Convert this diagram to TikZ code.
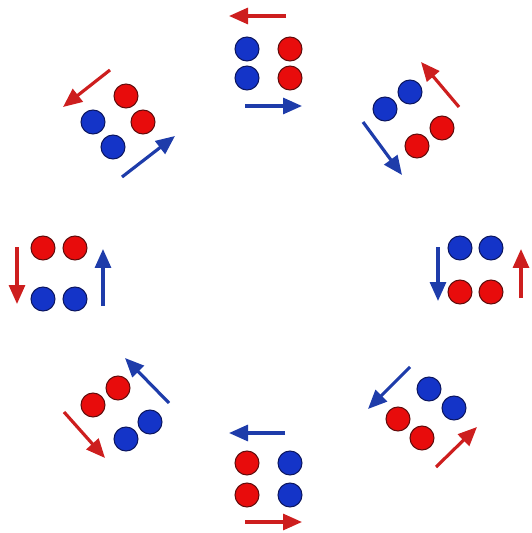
\documentclass[tikz,border=0pt]{standalone}
\usepackage{tikz}
\usetikzlibrary{arrows.meta}

\definecolor{dotblue}{RGB}{20,52,200}
\definecolor{dotblueedge}{RGB}{12,22,95}
\definecolor{dotred}{RGB}{232,12,12}
\definecolor{dotrededge}{RGB}{95,12,12}
\definecolor{arrblue}{RGB}{30,60,170}
\definecolor{arrred}{RGB}{205,30,30}

\begin{document}
\begin{tikzpicture}[x=0.02cm, y=-0.02cm,
        bluedot/.style={circle, fill=dotblue, draw=dotblueedge, line width=0.6pt, minimum size=0.48cm, inner sep=0pt},
        reddot/.style={circle, fill=dotred, draw=dotrededge, line width=0.6pt, minimum size=0.48cm, inner sep=0pt},
        bluearrow/.style={-{Triangle[length=0.38cm, width=0.32cm]}, line width=1.8pt, arrblue},
        redarrow/.style={-{Triangle[length=0.38cm, width=0.32cm]}, line width=1.8pt, arrred}]
        \useasboundingbox (0,0) rectangle (531,533);

        % Top
        \node[bluedot] (Tb1) at (247,49) {};
        \node[bluedot] (Tb2) at (247,78) {};
        \node[reddot] (Tr1) at (290,49) {};
        \node[reddot] (Tr2) at (290,78) {};
        \coordinate (Trs) at (286,16); \coordinate (Tre) at (229,16);
        \coordinate (Tbs) at (245,106); \coordinate (Tbe) at (302,106);
        \draw[redarrow] (Trs) -- (Tre);
        \draw[bluearrow] (Tbs) -- (Tbe);

        % Top right
        \node[bluedot] (TRb1) at (410,92) {};
        \node[bluedot] (TRb2) at (385,109) {};
        \node[reddot] (TRr1) at (442,128) {};
        \node[reddot] (TRr2) at (417,146) {};
        \coordinate (TRrs) at (459,107); \coordinate (TRre) at (421,62);
        \coordinate (TRbs) at (363,122); \coordinate (TRbe) at (402,175);
        \draw[redarrow] (TRrs) -- (TRre);
        \draw[bluearrow] (TRbs) -- (TRbe);

        % Right
        \node[bluedot] (Rb1) at (460,248) {};
        \node[bluedot] (Rb2) at (491,248) {};
        \node[reddot] (Rr1) at (460,292) {};
        \node[reddot] (Rr2) at (491,292) {};
        \coordinate (Rbs) at (438,247); \coordinate (Rbe) at (438,301);
        \coordinate (Rrs) at (521,298); \coordinate (Rre) at (521,249);
        \draw[bluearrow] (Rbs) -- (Rbe);
        \draw[redarrow] (Rrs) -- (Rre);

        % Bottom right
        \node[bluedot] (BRb1) at (429,389) {};
        \node[bluedot] (BRb2) at (454,408) {};
        \node[reddot] (BRr1) at (398,419) {};
        \node[reddot] (BRr2) at (422,438) {};
        \coordinate (BRbs) at (410,367); \coordinate (BRbe) at (368,409);
        \coordinate (BRrs) at (436,467); \coordinate (BRre) at (477,427);
        \draw[bluearrow] (BRbs) -- (BRbe);
        \draw[redarrow] (BRrs) -- (BRre);

        % Bottom
        \node[reddot] (Br1) at (247,463) {};
        \node[reddot] (Br2) at (247,495) {};
        \node[bluedot] (Bb1) at (290,463) {};
        \node[bluedot] (Bb2) at (290,495) {};
        \coordinate (Bbs) at (285,433); \coordinate (Bbe) at (229,433);
        \coordinate (Brs) at (245,522); \coordinate (Bre) at (302,522);
        \draw[bluearrow] (Bbs) -- (Bbe);
        \draw[redarrow] (Brs) -- (Bre);

        % Bottom left
        \node[reddot] (BLr1) at (118,388) {};
        \node[reddot] (BLr2) at (93,405) {};
        \node[bluedot] (BLb1) at (150,422) {};
        \node[bluedot] (BLb2) at (126,439) {};
        \coordinate (BLbs) at (169,403); \coordinate (BLbe) at (125,358);
        \coordinate (BLrs) at (64,412); \coordinate (BLre) at (105,458);
        \draw[bluearrow] (BLbs) -- (BLbe);
        \draw[redarrow] (BLrs) -- (BLre);

        % Left
        \node[reddot] (Lr1) at (43,248) {};
        \node[reddot] (Lr2) at (75,248) {};
        \node[bluedot] (Lb1) at (43,299) {};
        \node[bluedot] (Lb2) at (75,299) {};
        \coordinate (Lrs) at (17,247); \coordinate (Lre) at (17,304);
        \coordinate (Lbs) at (103,306); \coordinate (Lbe) at (103,249);
        \draw[redarrow] (Lrs) -- (Lre);
        \draw[bluearrow] (Lbs) -- (Lbe);

        % Top left
        \node[reddot] (TLr1) at (126,96) {};
        \node[reddot] (TLr2) at (143,122) {};
        \node[bluedot] (TLb1) at (93,122) {};
        \node[bluedot] (TLb2) at (113,147) {};
        \coordinate (TLrs) at (110,70); \coordinate (TLre) at (63,107);
        \coordinate (TLbs) at (122,177); \coordinate (TLbe) at (175,136);
        \draw[redarrow] (TLrs) -- (TLre);
        \draw[bluearrow] (TLbs) -- (TLbe);
    \end{tikzpicture}
\end{document}
